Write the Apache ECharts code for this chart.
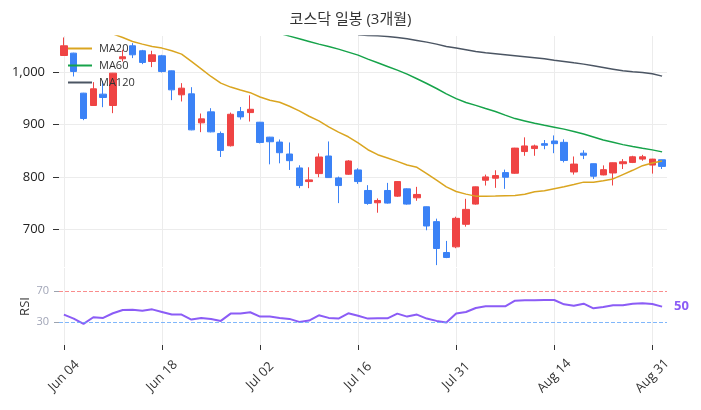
<!DOCTYPE html>
<html>
<head>
<meta charset="UTF-8">
<title>코스닥 일봉</title>
<script src="https://cdn.jsdelivr.net/npm/echarts@6/dist/echarts.min.js"></script>
<style>
  html, body { margin: 0; padding: 0; background: #fff; }
  #main { width: 701px; height: 410px; }
</style>
</head>
<body>
<div id="main"></div>
<script>
// 거래일 (라벨은 10일 간격으로만 보임)
var dates = [
  'Jun 04','Jun 05','Jun 06','Jun 07','Jun 10','Jun 11','Jun 12','Jun 13','Jun 14','Jun 17',
  'Jun 18','Jun 19','Jun 20','Jun 21','Jun 24','Jun 25','Jun 26','Jun 27','Jun 28','Jul 01',
  'Jul 02','Jul 03','Jul 04','Jul 05','Jul 08','Jul 09','Jul 10','Jul 11','Jul 12','Jul 15',
  'Jul 16','Jul 18','Jul 19','Jul 22','Jul 23','Jul 24','Jul 25','Jul 26','Jul 29','Jul 30',
  'Jul 31','Aug 01','Aug 02','Aug 05','Aug 06','Aug 07','Aug 08','Aug 09','Aug 12','Aug 13',
  'Aug 14','Aug 16','Aug 19','Aug 20','Aug 21','Aug 22','Aug 23','Aug 26','Aug 27','Aug 29',
  'Aug 31','Sep 02'
];

// [open, close, low, high]
var ohlc = [
  [1031.8, 1050.3, 1031.0, 1066.2], [1036.3, 1001.3, 991.7, 1037.0], [959.9, 911.5, 908.3, 960.5],
  [936.3, 968.2, 935.5, 980.9], [958.0, 951.6, 933.1, 983.4], [936.3, 998.1, 921.7, 998.5],
  [1025.5, 1029.3, 1020.4, 1042.7], [1050.3, 1033.1, 1026.8, 1055.4], [1040.8, 1018.5, 1015.3, 1042.5],
  [1020.4, 1033.1, 1009.6, 1040.8], [1031.2, 1001.3, 999.4, 1033.0], [1002.5, 966.2, 946.5, 1003.0],
  [956.7, 969.4, 944.0, 979.0], [958.6, 889.8, 889.0, 971.3], [903.2, 910.8, 885.4, 921.0],
  [924.2, 886.0, 885.0, 931.2], [882.9, 850.6, 838.0, 886.7], [859.5, 919.6, 858.0, 922.8],
  [924.7, 914.6, 909.5, 933.5], [922.8, 929.1, 905.7, 955.7], [904.4, 865.8, 864.0, 905.0],
  [875.9, 867.1, 824.0, 876.5], [866.5, 846.2, 826.0, 871.5], [843.7, 831.0, 813.3, 865.8],
  [817.1, 783.5, 778.5, 822.2], [791.1, 794.3, 778.5, 818.4], [806.3, 838.0, 799.4, 844.9],
  [839.9, 798.7, 798.0, 867.7], [798.1, 783.5, 750.0, 800.6], [805.1, 830.4, 804.0, 832.0],
  [813.3, 791.1, 786.7, 816.5], [774.1, 749.4, 746.8, 784.2], [750.6, 755.0, 731.6, 758.9],
  [774.1, 750.0, 749.0, 788.6], [763.3, 791.1, 762.0, 792.0], [777.2, 748.1, 747.0, 778.0],
  [760.1, 766.5, 754.4, 781.0], [743.0, 706.3, 698.1, 743.5], [714.6, 663.3, 631.6, 720.3],
  [655.7, 646.2, 644.9, 677.8], [666.5, 720.9, 663.9, 724.0], [709.5, 738.0, 705.0, 758.2],
  [748.1, 781.0, 747.0, 781.5], [793.7, 800.0, 783.5, 804.4], [797.5, 802.5, 779.1, 812.7],
  [808.2, 799.4, 777.2, 813.9], [807.0, 855.0, 806.0, 855.5], [848.4, 859.1, 840.3, 875.5],
  [854.1, 859.1, 840.3, 861.6], [863.5, 860.4, 852.8, 870.4], [868.6, 863.5, 845.3, 879.2],
  [866.0, 831.4, 827.7, 871.7], [809.4, 824.5, 804.4, 839.0], [845.3, 841.5, 834.0, 850.9],
  [825.2, 801.3, 796.2, 825.5], [803.8, 813.8, 803.0, 822.0], [807.5, 827.0, 783.6, 827.5],
  [825.2, 828.9, 815.1, 834.0], [827.7, 838.4, 826.4, 840.3], [834.0, 838.4, 830.8, 842.1],
  [822.6, 834.0, 806.3, 834.5], [832.7, 820.1, 815.1, 833.0]
];

var ma20 = [
  null, null, null, null, null, 1073, 1066, 1058.6, 1053.5, 1049,
  1045.9, 1040.8, 1034.4, 1020.4, 1006.4, 991.7, 979.1, 971.5, 965.8, 960.8,
  952.5, 946.2, 942.4, 934.8, 926, 915.8, 907, 895.6, 885.4, 876.6,
  865, 851.9, 842.4, 836.1, 829.7, 822.8, 818.4, 806.3, 793.7, 781,
  772.2, 767.1, 763.3, 763.3, 763.5, 764, 764.4, 766.7, 771.7, 773.6,
  777.4, 781.1, 785.5, 790, 790, 792.5, 796.2, 804.4, 812.6, 821.4,
  826.4, 830.2
];

var ma60 = [
  null, null, null, null, null, null, null, null, null, null,
  null, null, null, null, null, null, null, null, null, null,
  null, null, 1074, 1068.8, 1063.7, 1058.6, 1053.5, 1049, 1043.9, 1038.2,
  1032.5, 1024.8, 1017.8, 1010.8, 1003.8, 996.2, 987.3, 978.3, 968.8, 958.6,
  949.5, 942, 936.5, 930.5, 925, 918, 911.3, 906.9, 902.5, 898.7,
  895, 891.2, 886.8, 881.8, 876.1, 870.4, 866, 861.6, 857.9, 854.7,
  851.6, 847.8
];

var ma120 = [
  null, null, null, null, null, null, null, null, null, null,
  null, null, null, null, null, null, null, null, null, null,
  null, null, null, null, null, null, null, null, null, null,
  1071.5, 1070, 1069.4, 1068.2, 1066.2, 1063.7, 1060.5, 1057.3, 1053.5, 1049,
  1045.9, 1042.7, 1039.5, 1036.9, 1035, 1033.1, 1031.2, 1029.3, 1027.4, 1025.5,
  1022.9, 1020.4, 1017.8, 1015.3, 1012.1, 1008.9, 1005.7, 1002.5, 1000.6, 999.4,
  996.8, 992.4
];

var rsi = [
  39.5, 34.3, 27.4, 36, 35.2, 41.2, 45.5, 45.9, 44.6, 46.3,
  42.9, 39.5, 39.5, 33, 35.2, 33.9, 31.3, 40.8, 40.8, 42.5,
  36.9, 36.9, 35.2, 33.9, 30, 31.7, 38.6, 35.2, 34.3, 41.2,
  38, 34.3, 34.7, 34.7, 40.8, 36.9, 39.5, 34.3, 31.3, 29.1,
  40.8, 42.9, 48.1, 50.2, 50.2, 50.2, 57.5, 58, 58, 58.4,
  58.4, 52.8, 51.1, 53.7, 47.6, 49.4, 51.5, 51.5, 53.7, 54.1,
  53.2, 49.8
];

var priceTicks = [700, 800, 900, 1000];
var rsiTicks = [30, 70];

var UP = '#ef4444', DOWN = '#3b82f6';
var gridColor = '#ececec';
var font = "'Open Sans', 'Noto Sans CJK KR', sans-serif";

var myChart = echarts.init(document.getElementById('main'));

function catAxis(gridIndex, showLabels) {
  return {
    type: 'category',
    gridIndex: gridIndex,
    data: dates,
    boundaryGap: true,
    axisLine: { show: false },
    axisTick: {
      show: showLabels, interval: 9, alignWithLabel: true, length: 5,
      lineStyle: { color: '#333' }
    },
    axisLabel: {
      show: showLabels, interval: 9, rotate: 45, fontSize: 13,
      align: 'center', verticalAlign: 'middle',
      color: '#333', margin: 31, fontFamily: font
    },
    splitLine: {
      show: true, interval: 9, alignWithLabel: true,
      lineStyle: { color: gridColor, width: 1 }
    }
  };
}

var option = {
  animation: false,
  textStyle: { fontFamily: font },
  title: {
    text: '코스닥 일봉 (3개월)',
    left: 'center',
    top: 7,
    textStyle: { fontSize: 15, fontWeight: 'normal', color: '#333', fontFamily: font }
  },
  legend: {
    data: ['MA20', 'MA60', 'MA120'],
    orient: 'vertical',
    left: 63,
    top: 38,
    itemGap: 6,
    itemWidth: 24,
    itemHeight: 2,
    icon: 'rect',
    textStyle: { fontSize: 11, color: '#333', padding: [0, 0, 0, 2] }
  },
  grid: [
    { left: 59, right: 34, top: 36, height: 231 },
    { left: 59, right: 34, top: 268, height: 77 }
  ],
  xAxis: [catAxis(0, false), catAxis(1, true)],
  yAxis: [
    {
      type: 'value',
      gridIndex: 0,
      min: 628,
      max: 1069,
      axisLine: { show: false },
      axisTick: { show: true, length: 6, customValues: priceTicks, lineStyle: { color: '#333' } },
      axisLabel: {
        customValues: priceTicks, fontSize: 13, color: '#222', margin: 14,
        formatter: function (v) { return v.toLocaleString('en-US'); }
      },
      splitLine: { show: true, lineStyle: { color: gridColor } }
    },
    {
      type: 'value',
      gridIndex: 1,
      min: 0,
      max: 100,
      name: 'RSI',
      nameLocation: 'middle',
      nameGap: 27,
      nameMoveOverlap: false,
      nameTextStyle: { fontSize: 13, color: '#333' },
      axisLine: { show: false },
      axisTick: { show: true, length: 5, customValues: rsiTicks, lineStyle: { color: '#9ca3af' } },
      axisLabel: { customValues: rsiTicks, fontSize: 11, color: '#a1a5b7', margin: 10 },
      splitLine: { show: false }
    }
  ],
  series: [
    {
      name: '코스닥',
      type: 'candlestick',
      xAxisIndex: 0,
      yAxisIndex: 0,
      data: ohlc,
      barWidth: '70%',
      itemStyle: {
        color: UP, color0: DOWN,
        borderColor: UP, borderColor0: DOWN,
        borderWidth: 1
      }
    },
    {
      name: 'MA20', type: 'line', xAxisIndex: 0, yAxisIndex: 0, data: ma20,
      showSymbol: false, symbol: 'none', color: '#daa520',
      lineStyle: { width: 1.5, color: '#daa520' }
    },
    {
      name: 'MA60', type: 'line', xAxisIndex: 0, yAxisIndex: 0, data: ma60,
      showSymbol: false, symbol: 'none', color: '#16a34a',
      lineStyle: { width: 1.5, color: '#16a34a' }
    },
    {
      name: 'MA120', type: 'line', xAxisIndex: 0, yAxisIndex: 0, data: ma120,
      showSymbol: false, symbol: 'none', color: '#4b5563',
      lineStyle: { width: 1.5, color: '#4b5563' }
    },
    {
      name: 'RSI', type: 'line', xAxisIndex: 1, yAxisIndex: 1, data: rsi,
      showSymbol: false, symbol: 'none', color: '#8b5cf6',
      lineStyle: { width: 2, color: '#8b5cf6' },
      endLabel: {
        show: true,
        distance: 12,
        color: '#8b5cf6',
        fontSize: 13,
        fontWeight: 'bold',
        formatter: function (p) { return Math.round(p.value); }
      },
      markLine: {
        silent: true,
        symbol: 'none',
        label: { show: false },
        data: [
          { yAxis: 70, lineStyle: { color: '#f87171', type: 'dashed', width: 1, opacity: 0.8 } },
          { yAxis: 30, lineStyle: { color: '#60a5fa', type: 'dashed', width: 1, opacity: 0.8 } }
        ]
      }
    }
  ]
};

myChart.setOption(option);
</script>
</body>
</html>
